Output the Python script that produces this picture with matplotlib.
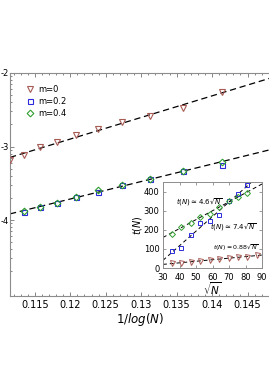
import numpy as np
import matplotlib.pyplot as plt
from matplotlib.ticker import FixedLocator, LogLocator, NullFormatter, FixedFormatter, MultipleLocator

# ---- main panel data: x = 1/log(N), y on log scale ----
inv_logN = [0.11148, 0.11345, 0.11570, 0.11810, 0.12077, 0.12387, 0.12725, 0.13120, 0.13585, 0.14134]
y_m0 = [6.55e-4, 7.66e-4, 9.84e-4, 1.15e-3, 1.43e-3, 1.73e-3, 2.15e-3, 2.60e-3, 3.34e-3, 5.51e-3]
y_m02 = [1.29e-4, 1.49e-4, 1.69e-4, 2.04e-4, 2.42e-4, 2.97e-4, 3.60e-4, 4.60e-4, 5.60e-4]
y_m04 = [1.31e-4, 1.52e-4, 1.71e-4, 2.08e-4, 2.52e-4, 3.02e-4, 3.63e-4, 4.70e-4, 6.20e-4]

# ---- inset data: t(N) vs sqrt(N) ----
sqrtN = [35.3, 41.0, 46.8, 52.5, 58.2, 64.0, 69.7, 75.4, 81.1]
sqrtN_m0 = sqrtN + [87.0]
t_m0 = [25, 28, 33, 36, 41, 46, 50, 55, 60, 68]
t_m02 = [88, 107, 171, 237, 246, 279, 352, 387, 432]
t_m04 = [180, 215, 236, 269, 285, 321, 352, 373, 391]

red = "#a85a55"
blue = "#2b2bdd"
green = "#2e9e2e"
dash = (0, (5, 3))

W, H = 269, 380
fig = plt.figure(figsize=(W / 100, H / 100), dpi=100)

# main axes, extending past the right edge like the cropped original
ax = fig.add_axes([10 / W, 1 - 296 / H, 273 / W, 223 / H])
xlo, xhi = 0.1115, 0.150
ax.set_xlim(xlo, xhi)
ax.set_yscale("log")
ax.set_ylim(10 ** -5.034, 1e-2)

xx = np.array([xlo, xhi])
c0 = np.polyfit(inv_logN, np.log10(y_m0), 1)
ax.plot(xx, 10 ** np.polyval(c0, xx), color="k", lw=0.9, ls=dash, zorder=2)
xb = np.array(inv_logN[1:] * 2)
yb = np.log10(np.array(y_m02 + y_m04))
c1 = np.polyfit(xb, yb, 1)
ax.plot(xx, 10 ** np.polyval(c1, xx), color="k", lw=0.9, ls=dash, zorder=2)

ms = 4.2
ax.plot(inv_logN, y_m0, "v", ms=ms, mfc="none", mec=red, mew=0.8, label="m=0", zorder=3)
ax.plot(inv_logN[1:], y_m02, "s", ms=ms - 0.6, mfc="none", mec=blue, mew=0.8, label="m=0.2", zorder=3)
ax.plot(inv_logN[1:], y_m04, "D", ms=ms - 0.8, mfc="none", mec=green, mew=0.8, label="m=0.4", zorder=3)

ax.yaxis.set_major_locator(FixedLocator([1e-2, 1e-3, 1e-4]))
ax.yaxis.set_major_formatter(FixedFormatter(["-2", "-3", "-4"]))
ax.yaxis.set_minor_locator(LogLocator(base=10, subs=np.arange(2, 10)))
ax.yaxis.set_minor_formatter(NullFormatter())
ax.xaxis.set_minor_locator(MultipleLocator(0.001))
ax.set_xticks([0.115, 0.12, 0.125, 0.13, 0.135, 0.14, 0.145])
ax.set_xticklabels(["0.115", "0.12", "0.125", "0.13", "0.135", "0.14", "0.145"])
ax.tick_params(which="both", direction="in", top=True, right=False, color="0.45", width=0.6)
ax.tick_params(which="major", length=3, labelsize=7, pad=3)
ax.tick_params(which="minor", length=1.6)
ax.tick_params(axis="y", pad=1, labelsize=6)
for s in ax.spines.values():
    s.set_color("0.55")
    s.set_linewidth(0.8)

fig.text(140 / W, 1 - 320 / H, r"$1/log(N)$", ha="center", va="center", fontsize=8.5)

ax.legend(loc="upper left", bbox_to_anchor=(23 / W, 1 - 82 / H), bbox_transform=fig.transFigure,
          frameon=False, fontsize=6, handlelength=0.8, handletextpad=0.6,
          labelspacing=0.35, borderaxespad=0)

# ---- inset ----
ins = fig.add_axes([163 / W, 1 - 268 / H, 99 / W, 86 / H])
ins.set_xlim(30, 90)
ins.set_ylim(0, 450)
sx = np.array([30.0, 90.0])
for xs, ts in [(sqrtN, t_m04), (sqrtN, t_m02), (sqrtN_m0, t_m0)]:
    k = np.polyfit(xs, ts, 1)
    ins.plot(sx, np.polyval(k, sx), color="k", lw=0.7, ls=(0, (4, 3)), zorder=2)
ins.plot(sqrtN_m0, t_m0, "v", ms=3.6, mfc="none", mec=red, mew=0.7, zorder=3)
ins.plot(sqrtN, t_m02, "s", ms=3.4, mfc="none", mec=blue, mew=0.7, zorder=3)
ins.plot(sqrtN, t_m04, "D", ms=3.0, mfc="none", mec=green, mew=0.7, zorder=3)

ins.set_xticks([30, 40, 50, 60, 70, 80, 90])
ins.set_yticks([0, 100, 200, 300, 400])
ins.tick_params(which="both", direction="in", top=True, right=True, color="0.45", width=0.5,
                length=2, labelsize=6)
ins.tick_params(axis="x", pad=3.5)
ins.tick_params(axis="y", pad=2.5)
for s in ins.spines.values():
    s.set_color("0.55")
    s.set_linewidth(0.7)
ins.set_xlabel(r"$\sqrt{N}$", fontsize=7.5, labelpad=-1)
ins.set_ylabel(r"$t(N)$", fontsize=7, labelpad=0)

ins.text(0.13, 0.76, r"$t(N)\simeq4.6\sqrt{N}$", transform=ins.transAxes, fontsize=5,
         ha="left", va="center")
ins.text(0.47, 0.47, r"$t(N)\simeq7.4\sqrt{N}$", transform=ins.transAxes, fontsize=5,
         ha="left", va="center")
ins.text(0.51, 0.23, r"$t(N)\simeq0.88\sqrt{N}$", transform=ins.transAxes, fontsize=4.5,
         ha="left", va="center")

fig.savefig("out.png", dpi=100)
